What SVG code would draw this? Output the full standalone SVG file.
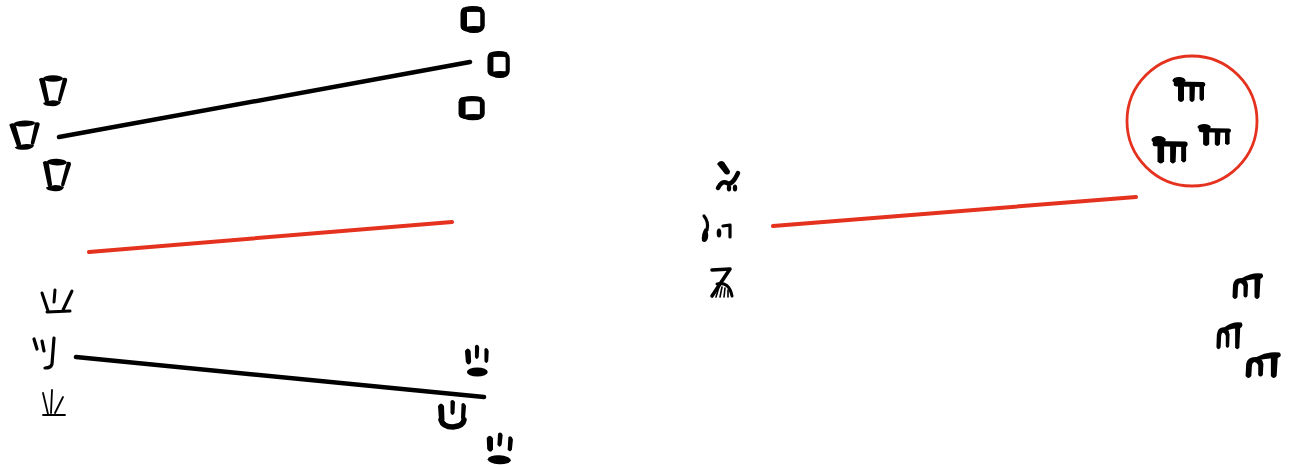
<svg xmlns="http://www.w3.org/2000/svg" width="1290" height="465" viewBox="0 0 1290 465">
<style>
.s{fill:none;stroke:#000;stroke-linecap:round;stroke-linejoin:round}
.f{fill:#000}
.k{fill:none;stroke:#000;stroke-width:4.5;stroke-linecap:round}
.r{fill:none;stroke:#e5321f;stroke-width:4;stroke-linecap:round}
</style>
<defs>
<g id="cup">
<ellipse class="f" cx="15" cy="3.5" rx="10" ry="3.2"/>
<path class="f" d="M1,4 Q5,1 7,5 L11,25 Q10,29 7,27 Z"/>
<path class="f" d="M25,3 Q30,2 29,6 L23,26 Q20,28 20,24 Z"/>
<path class="f" d="M5,28 Q14,23 23,27 Q21,32 12,31 Q6,31 5,28 Z"/>
</g>
<g id="sq">
<rect class="s" x="3.5" y="3.5" width="19" height="20" rx="4" stroke-width="4.5"/>
<path class="f" d="M0.5,7 Q1,0 7,1.5 L7,25 Q0.5,25 0.5,20 Z"/>
<path class="f" d="M5,21 Q14,19 24,21 Q23,27.5 13,27 Q5,27 5,21 Z"/>
<path class="f" d="M5,1 Q14,-1 22,1.5 L22,6 Q14,5 5,6 Z"/>
</g>
<g id="m">
<ellipse class="f" cx="6" cy="3.5" rx="6.5" ry="3.5"/>
<path class="s" d="M3,7 L30,7.5" stroke-width="4.8"/>
<path class="f" d="M5,7 L11,7 L11,23 Q8,27 5,23 Z"/>
<path class="f" d="M16.5,8 L22,8 L21.5,23 Q19,27 16.5,23 Z"/>
<path class="f" d="M26.5,8 L31,8 L31,22 Q29,26 26.5,22 Z"/>
</g>
<g id="nt">
<path class="f" d="M0.5,24 L1,12 Q2,5 9,5 Q15,5 16,12 L15.5,23 Q13.5,26 11.5,23 L11.5,13 Q10,10 8,10 Q6,11 6,14 L5.5,24 Q3,28 0.5,24 Z"/>
<path class="f" d="M10,5 Q20,-1 30,0.5 Q33,4 28,6 Q20,6 12,8 Q8,7 10,5 Z"/>
<path class="f" d="M22.5,5 L28.5,5 L27.5,24 Q25,28 22.5,24 Z"/>
</g>
<g id="paw">
<path class="f" d="M1,6 Q4,1 7,6 L7.5,17 Q5,22 2,17 Z"/>
<path class="f" d="M11.5,1 Q14,-2 16,2 L15.5,12 Q13.5,16 11.5,12 Z"/>
<path class="f" d="M21.5,4 Q24,1 26,6 L25.5,16 Q23.5,20 21.5,16 Z"/>
<ellipse class="f" cx="14" cy="27" rx="11" ry="4.5"/>
</g>
</defs>

<g id="connectors">
<line class="k" x1="59" y1="137" x2="470" y2="62"/>
<line class="r" x1="89" y1="252" x2="452" y2="222"/>
<line class="k" x1="76" y1="357" x2="484" y2="397"/>
<line class="r" x1="773" y1="226" x2="1136" y2="197"/>
</g>

<g id="node-cups">
<use href="#cup" transform="translate(38,75)"/>
<use href="#cup" transform="translate(8,121) rotate(-3) scale(1.08,0.95)"/>
<use href="#cup" transform="translate(42,158) rotate(2) scale(1,1.05)"/>
</g>

<g id="node-squares">
<use href="#sq" transform="translate(460,6)"/>
<use href="#sq" transform="translate(487,51) scale(0.92,1)"/>
<use href="#sq" transform="translate(458,96) scale(1.08,0.9)"/>
</g>

<g id="node-grass">
<path class="s" stroke-width="3" d="M42,293 L48,311 M55,290 L54,302 M72,291 L63,310 M47,312 L70,311"/>
<path class="s" stroke-width="3.2" d="M34,339 L37,349 M42,341 L44,351 M54,338 L52,364 Q51,368 45,368"/>
<path class="s" stroke-width="1.8" stroke="#333" d="M43,393 L48,414 M52,390 L51,413 M63,397 L55,413 M43,415 L65,415"/>
</g>

<g id="node-paws">
<use href="#paw" transform="translate(464,345) scale(0.95,1)"/>
<g transform="translate(437,400)">
<path class="f" d="M1,6 Q4,1 7,6 L7.5,20 Q5,23 2,20 Z"/>
<path class="f" d="M13.5,1 Q16,-1.5 18,2 L17.5,13 Q15.5,17 13.5,13 Z"/>
<path class="f" d="M24.5,4 Q27,1 29,6 L28,19 Q26,22 24,18 Z"/>
<path class="s" stroke-width="5.5" d="M4,20 Q6,27 16,27 Q26,26 27,20"/>
</g>
<use href="#paw" transform="translate(486,432) rotate(3) scale(1.05,1)"/>
</g>

<g id="node-brush">
<path class="f" d="M717,164 Q720,159 724,162 L730,171 Q730,176 725,174 Z"/>
<path class="s" stroke-width="4.5" d="M718,188 Q722,180 727,183 Q732,186 738,173"/>
<ellipse class="f" cx="729" cy="188" rx="2.2" ry="3.5"/>
<ellipse class="f" cx="735" cy="188" rx="2.2" ry="3.5"/>
<path class="s" stroke-width="3.2" d="M704,216 Q709,222 707,230"/>
<path class="f" d="M705,228 Q709,231 708,238 Q706,244 702,241 Q701,234 705,228 Z"/>
<ellipse class="f" cx="719" cy="233" rx="2.3" ry="4.5"/>
<path class="s" stroke-width="3.2" d="M723,226 L730,225 L730,237"/>
<path class="s" stroke-width="3.6" d="M712,270 L730,269 L712,296"/>
<path class="s" stroke-width="3" d="M717,284 Q729,281 732,296"/>
<path class="s" stroke-width="1.6" d="M719,287 L716,297 M722,287 L720,297 M725,288 L724,297 M728,290 L728,297"/>
</g>

<g id="node-circle">
<circle cx="1192" cy="121" r="65" fill="none" stroke="#e5321f" stroke-width="2.8"/>
<use href="#m" transform="translate(1173,77)"/>
<use href="#m" transform="translate(1198,124) scale(1.02,0.88)"/>
<use href="#m" transform="translate(1152,136) scale(1.1,1.1)"/>
</g>

<g id="node-nt">
<use href="#nt" transform="translate(1232,273)"/>
<use href="#nt" transform="translate(1216,322) scale(0.85,1.05)"/>
<use href="#nt" transform="translate(1245,352) scale(1.15,1)"/>
</g>
</svg>
